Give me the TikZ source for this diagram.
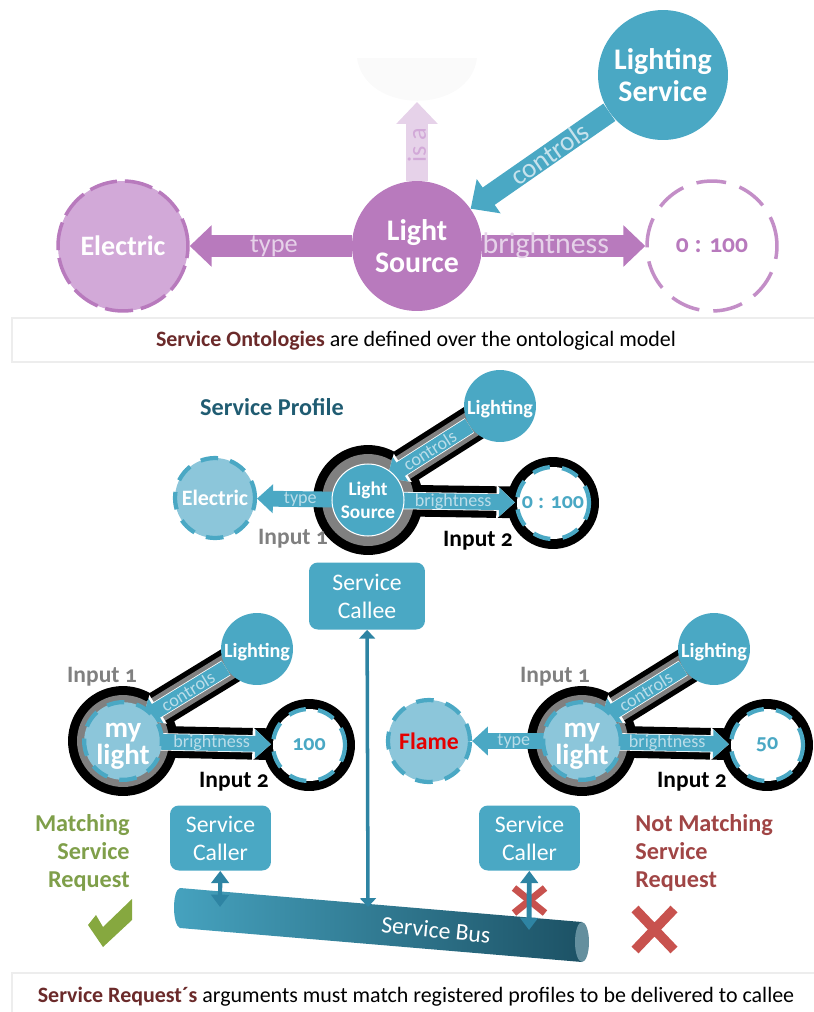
\documentclass[tikz,border=0pt]{standalone}
\usepackage{fontspec}
\setmainfont{Carlito}[Numbers=OldStyle]
\usetikzlibrary{arrows.meta}
\definecolor{srvblue}{HTML}{4AA8C4}
\definecolor{srvlight}{HTML}{8CC6DA}
\definecolor{srvdark}{HTML}{2E84A3}
\definecolor{ontopurple}{HTML}{B87ABD}
\definecolor{ontolight}{HTML}{D2A9D8}
\definecolor{ontopale}{HTML}{E6D2E9}
\definecolor{okgreen}{HTML}{7F9F4A}
\definecolor{okmark}{HTML}{86A83F}
\definecolor{badred}{HTML}{A04545}
\definecolor{badmark}{HTML}{C8524E}
\definecolor{capred}{HTML}{6B2A2A}
\tikzset{
        bigtext/.style={font=\bfseries\fontsize{17}{18.5}\selectfont,text=white,align=center},
        smalltext/.style={font=\bfseries\fontsize{11.5}{13}\selectfont,text=white,align=center},
        mytext/.style={font=\bfseries\fontsize{16.5}{15.5}\selectfont,text=white,align=center},
        blob/.style={circle,inner sep=0pt,minimum size=#1*0.04cm},
        arrowtext/.style={font=\fontsize{17}{16}\selectfont,inner sep=0pt},
        tinytext/.style={font=\fontsize{10.3}{10}\selectfont,text=srvlight!60,inner sep=0pt},
        bigarrow/.style={line width=12pt,-{Triangle[length=12.5pt,width=23pt]}},
        whitearrow/.style={white,line width=9.9pt,-{Triangle[length=10.5pt,width=18.5pt]}},
        tinyarrow/.style={srvblue,line width=9pt,-{Triangle[length=9pt,width=16pt]}},
        blackband/.style={black,line width=21pt},
        grayband/.style={black!50,line width=15pt},
        inputa/.style={font=\bfseries\fontsize{13.4}{15}\selectfont,text=gray},
        inputb/.style={font=\bfseries\fontsize{13.4}{15}\selectfont,text=black},
        srvbox/.style={fill=srvblue,rounded corners=5pt,text=white,align=center,font=\fontsize{13.5}{16}\selectfont,inner sep=0pt},
        capbox/.style={draw=black!7,line width=1.2pt,fill=white,inner sep=0pt},
        captext/.style={font=\fontsize{12.5}{14}\selectfont,inner sep=0pt},
        reqtext/.style={font=\bfseries\fontsize{13.8}{16}\selectfont,inner sep=0pt},
        srvbus/.style={srvdark,line width=2pt,{Triangle[length=5pt,width=9pt]}-{Triangle[length=5pt,width=9pt]}},
        dashbig/.style={line width=2pt,dash pattern=on 16pt off 4.5pt},
        dashsmall/.style={line width=2.4pt,dash pattern=on 10pt off 7pt}
}
\begin{document}
\begin{tikzpicture}[x=0.02cm,y=-0.02cm]
        \useasboundingbox (0,0) rectangle (814,1012);

        \fill[black!2] (357,58) .. controls (365,115) and (470,115) .. (477,58) -- cycle;
        \coordinate (kind) at (417,102);
        \node[blob=65,fill=srvblue,bigtext] (service) at (663,75) {Lighting\\Service};
        \node[blob=65,fill=ontopurple,bigtext] (source) at (417,246) {Light\\Source};
        \node[blob=65,fill=ontolight,draw=ontopurple,dashbig,bigtext,font=\bfseries\fontsize{16}{18}\selectfont] (electric) at (123,246) {Electric};
        \node[blob=65,fill=white,draw=ontopurple!85,dashbig,dash pattern=on 17pt off 8pt,font=\bfseries\fontsize{14.5}{16}\selectfont,text=ontopurple] (range) at (712,246) {0 : 100};
        \draw[bigarrow,ontopale] (source) -- (kind) node[arrowtext,pos=.45,sloped,text=ontolight,font=\fontsize{15}{15}\selectfont] {is a};
        \draw[bigarrow,srvblue] (service) -- (source) node[arrowtext,pos=.43,sloped,text=srvlight!50,font=\fontsize{15.5}{15}\selectfont] {controls};
        \draw[bigarrow,ontopurple] (source) -- (electric) node[arrowtext,pos=.48,text=ontopale,font=\fontsize{15}{15}\selectfont] {type};
        \draw[bigarrow,ontopurple] (source) -- (range) node[arrowtext,pos=.39,text=ontopale] {brightness};
        \node[capbox,minimum width=16.16cm,minimum height=0.88cm] (capa) at (416,340) {};
        \node[captext] (capb) at (416,341) {\textcolor{capred}{\textbf{Service Ontologies}} are defined over the ontological model};

        \node[font=\bfseries\fontsize{13.8}{15}\selectfont,text=srvdark!70!black] (profile) at (272,407) {Service Profile};
        \coordinate (aimp) at (368,490);
        \coordinate (litcp) at (500,406);
        \node[blob=55,fill=black] (outp) at (368,500) {};
        \node[blob=46,fill=black] (outr) at (553,503) {};
        \draw[blackband] (aimp) -- (litcp);
        \draw[blackband,line width=18pt] (outp.center) -- (outr.center);
        \node[blob=46,fill=black!50] (grayp) at (368,500) {};
        \draw[grayband] (aimp) -- (litcp);
        \node[blob=36,fill=srvblue,smalltext] (litp) at (litcp) {\rule{0pt}{12pt}Lighting};
        \node[blob=36,fill=white,draw=srvblue,dashsmall,text=srvblue,font=\bfseries\fontsize{12.5}{15}\selectfont] (rangep) at (553,503) {0 : 100};
        \node[blob=40,fill=srvlight,draw=srvblue,dashsmall,smalltext,font=\bfseries\fontsize{12.5}{15}\selectfont] (elecp) at (215,498) {Electric};
        \draw[whitearrow,shorten >=13pt] (litp) -- (aimp);
        \draw[whitearrow] (grayp.center) -- (rangep);
        \draw[tinyarrow,shorten >=13pt] (litp) -- (aimp) node[tinytext,pos=.39,sloped] {controls};
        \draw[tinyarrow] (grayp.center) -- (rangep) node[tinytext,pos=.58] {brightness};
        \draw[tinyarrow] (grayp.center) -- (elecp) node[tinytext,pos=.61] {type};
        \node[blob=36,fill=srvblue,draw=white,line width=.6pt,smalltext,font=\bfseries\fontsize{11}{13}\selectfont] (srcp) at (368,500) {Light\\Source};
        \node[inputa] (ina) at (293,539) {Input 1};
        \node[inputb] (inb) at (478,541) {Input 2};
        \node[srvbox,minimum width=2.32cm,minimum height=1.34cm] (callee) at (367,596) {Service\\Callee};

        \shade[left color=srvblue!85!srvdark,middle color=srvdark!92,right color=srvdark!62!black] (180,888) -- (582,922) -- (582,962) -- (180,928) .. controls (172,925) and (172,890) .. (180,888) -- cycle;
        \fill[srvdark!55!gray!90] (582,942) ellipse [x radius=7,y radius=20];
        \node[font=\fontsize{13.5}{15}\selectfont,text=white,rotate=-5.5] (bus) at (436,930) {Service Bus};
        \coordinate (busa) at (368,907);
        \coordinate (busb) at (220,907);
        \coordinate (busc) at (529,930);
        \draw[srvbus] (callee) -- (busa);

        \coordinate (aima) at (123,731);
        \coordinate (litca) at (257,649);
        \node[blob=55,fill=black] (outa) at (123,741) {};
        \node[blob=46,fill=black] (outb) at (309,745) {};
        \draw[blackband] (aima) -- (litca);
        \draw[blackband,line width=18pt] (outa.center) -- (outb.center);
        \node[blob=46,fill=black!50] (graya) at (123,741) {};
        \draw[grayband] (aima) -- (litca);
        \node[blob=36,fill=srvblue,smalltext] (lita) at (litca) {\rule{0pt}{12pt}Lighting};
        \node[blob=36,fill=white,draw=srvblue,dashsmall,text=srvblue,font=\bfseries\fontsize{12.5}{15}\selectfont] (valuea) at (309,745) {100};
        \draw[whitearrow,shorten >=13pt] (lita) -- (aima);
        \draw[whitearrow] (graya.center) -- (valuea);
        \draw[tinyarrow,shorten >=13pt] (lita) -- (aima) node[tinytext,pos=.37,sloped] {controls};
        \draw[tinyarrow] (graya.center) -- (valuea) node[tinytext,pos=.6] {brightness};
        \node[blob=36,fill=srvlight,draw=srvblue,dashsmall,mytext] (lighta) at (123,741) {\rule{0pt}{14pt}my\\light};
        \node[inputa] (inc) at (102,677) {Input 1};
        \node[inputb] (ind) at (234,782) {Input 2};
        \node[srvbox,minimum width=2.02cm,minimum height=1.3cm] (callera) at (220.5,838) {Service\\Caller};
        \draw[srvbus,line width=2.4pt,{Triangle[length=7pt,width=10pt]}-{Triangle[length=7pt,width=10pt]}] (callera) -- (busb);
        \node[reqtext,text=okgreen,align=right,anchor=north east] (match) at (130,814) {Matching\\Service\\Request};
        \fill[okmark] (88,925) -- (96,915) -- (103,927) -- (132,899) -- (132,920) -- (103,947) -- cycle;

        \coordinate (aimb) at (582,731);
        \coordinate (litcb) at (714,649);
        \node[blob=55,fill=black] (outc) at (582,741) {};
        \node[blob=46,fill=black] (outd) at (767,745) {};
        \draw[blackband] (aimb) -- (litcb);
        \draw[blackband,line width=18pt] (outc.center) -- (outd.center);
        \node[blob=46,fill=black!50] (grayb) at (582,741) {};
        \draw[grayband] (aimb) -- (litcb);
        \node[blob=36,fill=srvblue,smalltext] (litb) at (litcb) {\rule{0pt}{12pt}Lighting};
        \node[blob=36,fill=white,draw=srvblue,dashsmall,text=srvblue,font=\bfseries\fontsize{12.5}{15}\selectfont] (valueb) at (767,745) {50};
        \node[blob=41,fill=srvlight,draw=srvblue,dashsmall,font=\bfseries\fontsize{13.5}{15}\selectfont,text=red!90!black] (flame) at (429,741) {Flame};
        \draw[whitearrow,shorten >=13pt] (litb) -- (aimb);
        \draw[whitearrow] (grayb.center) -- (valueb);
        \draw[tinyarrow,shorten >=13pt] (litb) -- (aimb) node[tinytext,pos=.37,sloped] {controls};
        \draw[tinyarrow] (grayb.center) -- (valueb) node[tinytext,pos=.58] {brightness};
        \draw[tinyarrow] (grayb.center) -- (flame) node[tinytext,pos=.62] {type};
        \node[blob=36,fill=srvlight,draw=srvblue,dashsmall,mytext] (lightb) at (582,741) {\rule{0pt}{14pt}my\\light};
        \node[inputa] (ine) at (555,677) {Input 1};
        \node[inputb] (inf) at (692,782) {Input 2};
        \node[srvbox,minimum width=2.02cm,minimum height=1.3cm] (callerb) at (529.5,838) {Service\\Caller};
        \draw[badmark,line width=4pt] (514,888) -- (545,913) (545,888) -- (514,913);
        \draw[srvbus,line width=2.8pt,{Triangle[length=7pt,width=10pt]}-{Triangle[length=7pt,width=10pt]}] (callerb) -- (busc);
        \node[reqtext,text=badred,align=left,anchor=north west] (nomatch) at (635,814) {Not Matching\\Service\\Request};
        \draw[badmark,line width=5.5pt] (635,909) -- (674,950) (674,909) -- (635,950);

        \node[capbox,minimum width=16.16cm,minimum height=1.4cm] (capc) at (416,1008) {};
        \node[captext] (capd) at (416,997) {\textcolor{capred}{\textbf{Service Request´s}} arguments must match registered profiles to be delivered to callee};
\end{tikzpicture}
\end{document}
